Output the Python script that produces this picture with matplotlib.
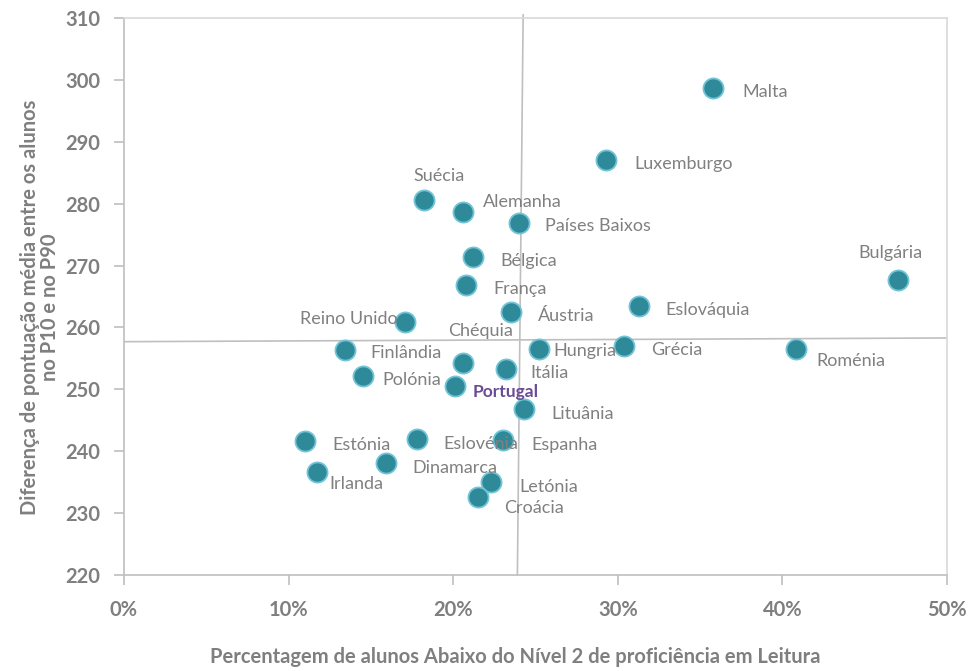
import matplotlib
matplotlib.use('Agg')
import matplotlib.pyplot as plt
from matplotlib.ticker import FuncFormatter

# data
paises = ['Malta', 'Luxemburgo', 'Suécia', 'Alemanha', 'Países Baixos', 'Bélgica',
          'França', 'Bulgária', 'Eslováquia', 'Áustria', 'Reino Unido', 'Finlândia',
          'Chéquia', 'Hungria', 'Grécia', 'Roménia', 'Itália', 'Polónia', 'Portugal',
          'Lituânia', 'Estónia', 'Eslovénia', 'Espanha', 'Dinamarca', 'Irlanda',
          'Letónia', 'Croácia']
abaixo_n2 = [35.8, 29.3, 18.2, 20.6, 24.0, 21.2,
             20.8, 47.0, 31.3, 23.5, 17.1, 13.4,
             20.6, 25.2, 30.4, 40.8, 23.2, 14.5, 20.1,
             24.3, 11.0, 17.8, 23.0, 15.9, 11.7,
             22.3, 21.5]
dif_p90_p10 = [298.7, 287.1, 280.6, 278.7, 276.9, 271.4,
               266.9, 267.7, 263.5, 262.5, 260.9, 256.4,
               254.3, 256.5, 257.0, 256.5, 253.3, 252.2, 250.6,
               246.8, 241.7, 242.0, 241.8, 238.1, 236.7,
               235.0, 232.6]

# reference lines (averages)
media_x = [24.25, 23.9]
media_x_y = [310.5, 220]
media_y_x = [0, 50]
media_y = [257.7, 258.3]

# label offsets in pixels (dx, dy, ha)
offsets = {
    'Malta': (29, -4, 'left'), 'Luxemburgo': (28, -4, 'left'),
    'Suécia': (-10, 24, 'left'), 'Alemanha': (20, 10, 'left'),
    'Países Baixos': (26, -3, 'left'), 'Bélgica': (27, -4, 'left'),
    'França': (27, -4, 'left'), 'Bulgária': (-7, 27, 'center'),
    'Eslováquia': (26, -4, 'left'), 'Áustria': (27, -4, 'left'),
    'Reino Unido': (-8, 3, 'right'), 'Finlândia': (26, -3, 'left'),
    'Chéquia': (17, 32, 'center'), 'Hungria': (15, -2, 'left'),
    'Grécia': (27, -4, 'left'), 'Roménia': (21, -12, 'left'),
    'Itália': (25, -4, 'left'), 'Polónia': (20, -4, 'left'),
    'Portugal': (18, -6, 'left'), 'Lituânia': (27, -5, 'left'),
    'Estónia': (27, -4, 'left'), 'Eslovénia': (26, -5, 'left'),
    'Espanha': (29, -5, 'left'), 'Dinamarca': (27, -5, 'left'),
    'Irlanda': (13, -12, 'left'), 'Letónia': (28, -5, 'left'),
    'Croácia': (26, -11, 'left'),
}

cinza = '#7f7f7f'
plt.rcParams['font.family'] = ['Lato', 'DejaVu Sans']

fig = plt.figure(figsize=(9.69, 6.71), dpi=100)
ax = fig.add_axes([124 / 969, 1 - 575 / 671, (947 - 124) / 969, (575 - 18) / 671])

ax.plot(media_x, media_x_y, color='#bfbfbf', lw=1.2, zorder=1, clip_on=False)
ax.plot(media_y_x, media_y, color='#bfbfbf', lw=1.2, zorder=1)

ax.scatter(abaixo_n2, dif_p90_p10, s=210, color='#2e8a99', edgecolors='#72c4d6',
           linewidths=1.3, zorder=3)

for nome, xv, yv in zip(paises, abaixo_n2, dif_p90_p10):
    dx, dy, ha = offsets[nome]
    if nome == 'Portugal':
        ax.annotate(nome, (xv, yv), xytext=(dx, dy), textcoords='offset pixels',
                    ha=ha, va='center', fontsize=12.5, fontweight='bold',
                    color='#6b4a96', zorder=4)
    else:
        ax.annotate(nome, (xv, yv), xytext=(dx, dy), textcoords='offset pixels',
                    ha=ha, va='center', fontsize=13, color='#808080', zorder=4)

ax.set_xlim(0, 50)
ax.set_ylim(220, 310)
ax.set_xticks([0, 10, 20, 30, 40, 50])
ax.set_yticks(range(220, 311, 10))
ax.xaxis.set_major_formatter(FuncFormatter(lambda v, p: '%d%%' % v))

for s in ax.spines.values():
    s.set_color('#d9d9d9')
    s.set_linewidth(1.2)
ax.spines['left'].set_color('#bfbfbf')
ax.spines['bottom'].set_color('#bfbfbf')

ax.tick_params(axis='both', direction='out', length=7, width=1.2, color='#bfbfbf',
               labelsize=14.5, labelcolor=cinza)
ax.tick_params(axis='x', pad=11)
ax.tick_params(axis='y', pad=10)
for lab in ax.get_xticklabels() + ax.get_yticklabels():
    lab.set_fontweight('bold')

fig.text(515 / 969, 1 - 657 / 671, 'Percentagem de alunos Abaixo do Nível 2 de proficiência em Leitura',
         ha='center', va='center', fontsize=14.5, fontweight='bold', color=cinza)
fig.text(40 / 969, 1 - 307 / 671, 'Diferença de pontuação média entre os alunos\nno P10 e no P90',
         ha='center', va='center', rotation=90, fontsize=14.5, fontweight='bold',
         color=cinza, linespacing=1.0)

fig.savefig('out.png', dpi=100)
